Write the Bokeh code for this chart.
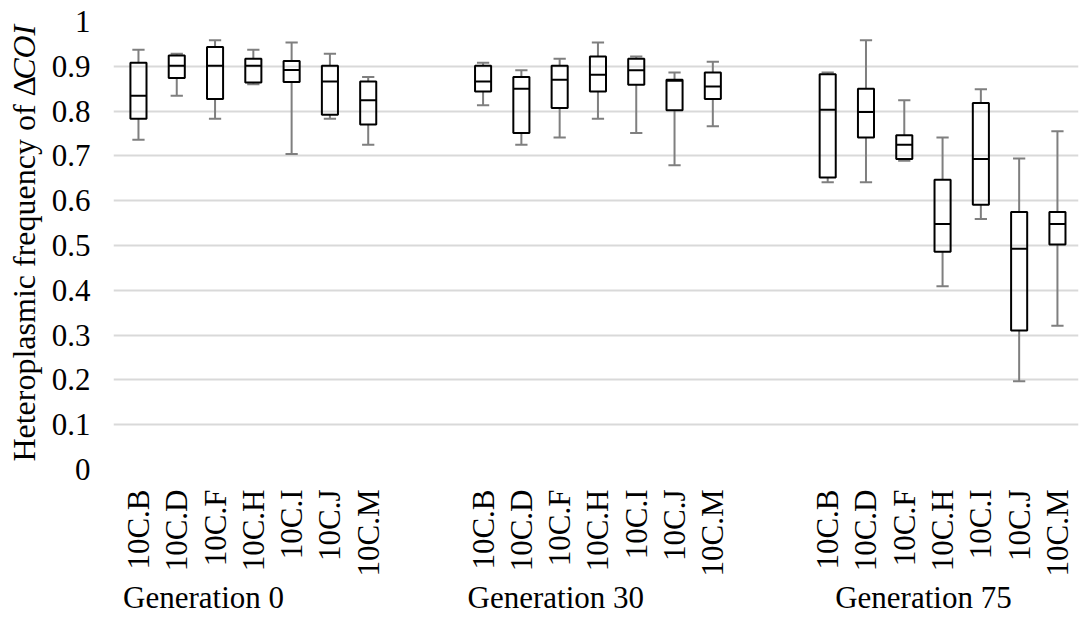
import math
from bokeh.plotting import figure
from bokeh.layouts import row
from bokeh.models import ColumnDataSource, FixedTicker, LinearAxis, Range1d
from bokeh.core.properties import value
from bokeh.embed import file_html
from bokeh.resources import INLINE

# ---- data ----
strains = ["10C.B", "10C.D", "10C.F", "10C.H", "10C.I", "10C.J", "10C.M"]
generations = ["Generation 0", "Generation 30", "Generation 75"]

gen0_low = [0.736, 0.834, 0.783, 0.860, 0.704, 0.783, 0.725]
gen0_q1 = [0.783, 0.874, 0.827, 0.864, 0.865, 0.792, 0.770]
gen0_med = [0.834, 0.901, 0.901, 0.901, 0.892, 0.866, 0.824]
gen0_q3 = [0.908, 0.924, 0.943, 0.917, 0.912, 0.901, 0.866]
gen0_high = [0.937, 0.928, 0.958, 0.937, 0.953, 0.928, 0.876]

gen30_low = [0.813, 0.725, 0.741, 0.783, 0.751, 0.679, 0.766]
gen30_q1 = [0.844, 0.751, 0.807, 0.844, 0.859, 0.802, 0.827]
gen30_med = [0.866, 0.850, 0.870, 0.881, 0.891, 0.868, 0.855]
gen30_q3 = [0.901, 0.876, 0.901, 0.922, 0.917, 0.870, 0.886]
gen30_high = [0.908, 0.891, 0.917, 0.953, 0.922, 0.886, 0.910]

gen75_low = [0.641, 0.641, 0.689, 0.409, 0.559, 0.197, 0.321]
gen75_q1 = [0.652, 0.741, 0.693, 0.486, 0.591, 0.310, 0.502]
gen75_med = [0.803, 0.798, 0.725, 0.548, 0.693, 0.493, 0.548]
gen75_q3 = [0.882, 0.850, 0.746, 0.647, 0.818, 0.575, 0.575]
gen75_high = [0.886, 0.958, 0.824, 0.741, 0.849, 0.694, 0.755]

y_ticks = [i / 10 for i in range(11)]
y_title_main = "Heteroplasmic frequency of "
y_title_delta = "\u0394"
y_title_italic = "COI"

# ---- layout helpers ----
GROUP_STRIDE = 9  # 7 boxes + 2 empty slots between generations
groups = [
    (gen0_low, gen0_q1, gen0_med, gen0_q3, gen0_high),
    (gen30_low, gen30_q1, gen30_med, gen30_q3, gen30_high),
    (gen75_low, gen75_q1, gen75_med, gen75_q3, gen75_high),
]

xs, lows, q1s, meds, q3s, highs, labels = [], [], [], [], [], [], []
for g, (lo, a, m, b, hi) in enumerate(groups):
    for i, s in enumerate(strains):
        xs.append(g * GROUP_STRIDE + i)
        lows.append(lo[i]); q1s.append(a[i]); meds.append(m[i])
        q3s.append(b[i]); highs.append(hi[i]); labels.append(s)

BOX_HALF = 0.21
CAP_HALF = 0.16

src = ColumnDataSource(dict(
    x=xs, low=lows, q1=q1s, med=meds, q3=q3s, high=highs,
    left=[x - BOX_HALF for x in xs], right=[x + BOX_HALF for x in xs],
    cl=[x - CAP_HALF for x in xs], cr=[x + CAP_HALF for x in xs],
))

FONT = "Liberation Serif"
WHISK = "#7f7f7f"
TITLE_W = 48

p = figure(width=1080 - TITLE_W, height=622, output_backend="svg", toolbar_location=None,
           x_range=Range1d(-0.652, 24.55), y_range=Range1d(0, 1),
           min_border_left=112 - TITLE_W, min_border_right=2, min_border_top=21,
           min_border_bottom=153)
p.outline_line_color = None
p.background_fill_color = "white"
p.border_fill_color = "white"

# whiskers
p.segment(x0="x", y0="q3", x1="x", y1="high", source=src, line_color=WHISK, line_width=2)
p.segment(x0="x", y0="low", x1="x", y1="q1", source=src, line_color=WHISK, line_width=2)
p.segment(x0="cl", y0="high", x1="cr", y1="high", source=src, line_color=WHISK, line_width=2)
p.segment(x0="cl", y0="low", x1="cr", y1="low", source=src, line_color=WHISK, line_width=2)
# boxes (unfilled) and medians
p.quad(left="left", right="right", bottom="q1", top="q3", source=src,
       fill_alpha=0, line_color="black", line_width=2)
p.segment(x0="left", y0="med", x1="right", y1="med", source=src, line_color="black", line_width=2)

# grid
p.xgrid.grid_line_color = None
p.ygrid.grid_line_color = "#d9d9d9"
p.ygrid.grid_line_width = 2


def style_axis(ax, standoff):
    ax.axis_line_color = None
    ax.major_tick_line_color = None
    ax.minor_tick_line_color = None
    ax.major_tick_out = 0
    ax.major_tick_in = 0
    ax.minor_tick_out = 0
    ax.minor_tick_in = 0
    ax.major_label_standoff = standoff
    ax.major_label_text_font = FONT
    ax.major_label_text_font_size = "31px"
    ax.major_label_text_color = "black"


p.yaxis.ticker = FixedTicker(ticks=y_ticks)
p.yaxis.major_label_overrides = {t: f"{t:g}" for t in y_ticks}
style_axis(p.yaxis[0], 23)

p.xaxis.ticker = FixedTicker(ticks=xs)
p.xaxis.major_label_overrides = {x: l for x, l in zip(xs, labels)}
p.xaxis.major_label_orientation = math.pi / 2
style_axis(p.xaxis[0], 20)

# generation group labels as a second category axis below
group_label_x = [1.70, 10.9, 20.5]
gax = LinearAxis(ticker=FixedTicker(ticks=group_label_x),
                 major_label_overrides={gx: gn for gx, gn in zip(group_label_x, generations)})
style_axis(gax, 0)
p.add_layout(gax, "below")

# ---- y-axis title panel (plain text + upright delta + italic COI) ----
t = figure(width=TITLE_W, height=622, output_backend="svg", toolbar_location=None,
           x_range=Range1d(0, TITLE_W), y_range=Range1d(0, 622),
           x_axis_type=None, y_axis_type=None, min_border=0)
t.outline_line_color = None
t.xgrid.grid_line_color = None
t.ygrid.grid_line_color = None
TITLE_SIZE = "32px"
TITLE_BASE_X = 23
TITLE_JUNCTION_Y = 622 - 104
DELTA_ADVANCE = 23
t.text(x=[TITLE_BASE_X], y=[TITLE_JUNCTION_Y], text=[y_title_main], angle=math.pi / 2,
       text_align="right", text_baseline="alphabetic", text_font=value(FONT),
       text_font_size=TITLE_SIZE, text_color="black")
t.text(x=[TITLE_BASE_X], y=[TITLE_JUNCTION_Y], text=[y_title_delta], angle=math.pi / 2,
       text_align="left", text_baseline="alphabetic", text_font=value(FONT),
       text_font_size=TITLE_SIZE, text_color="black")
t.text(x=[TITLE_BASE_X], y=[TITLE_JUNCTION_Y + DELTA_ADVANCE], text=[y_title_italic],
       angle=math.pi / 2, text_align="left", text_baseline="alphabetic",
       text_font=value(FONT), text_font_size=TITLE_SIZE, text_font_style="italic",
       text_color="black")

layout = row(t, p, spacing=0)
open("out.html", "w").write(file_html(layout, INLINE))
